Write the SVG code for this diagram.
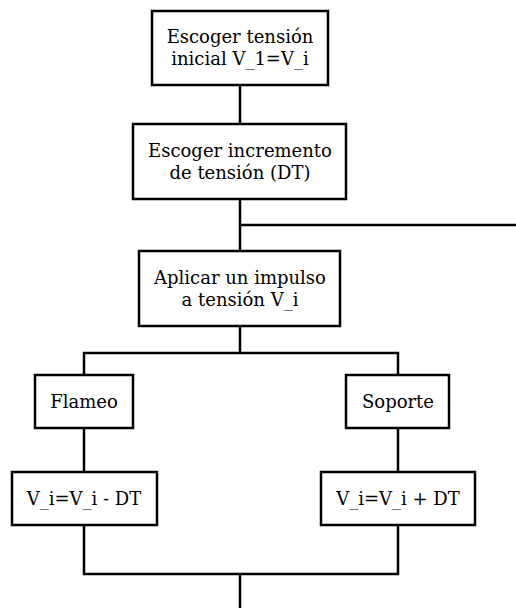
<svg xmlns="http://www.w3.org/2000/svg" width="516" height="608" viewBox="0 0 516 608">
<style>
.box{fill:#fff;stroke:#000;stroke-width:2.5}
.ln{fill:none;stroke:#000;stroke-width:2.5}
text{font-family:"DejaVu Serif",serif;font-size:18px;text-anchor:middle;fill:#000}
</style>
<rect width="516" height="608" fill="#fff"/>
<g id="connectors">
<path class="ln" d="M240 85V124"/>
<path class="ln" d="M240 199V251"/>
<path class="ln" d="M240 225H516"/>
<path class="ln" d="M240 326V353"/>
<path class="ln" d="M84 375V353H398V375"/>
<path class="ln" d="M84 428V472"/>
<path class="ln" d="M398 428V472"/>
<path class="ln" d="M84 525V574H398V525"/>
<path class="ln" d="M240 574V608"/>
</g>
<g id="n1"><rect class="box" x="152" y="11" width="176" height="74"/><text x="240" y="43">Escoger tensión</text><text x="240" y="65">inicial V_1=V_i</text></g>
<g id="n2"><rect class="box" x="133" y="124" width="213" height="75"/><text x="240" y="157">Escoger incremento</text><text x="240" y="179">de tensión (DT)</text></g>
<g id="n3"><rect class="box" x="139" y="251" width="201" height="75"/><text x="240" y="284">Aplicar un impulso</text><text x="240" y="306">a tensión V_i</text></g>
<g id="n4"><rect class="box" x="35" y="375" width="98" height="53"/><text x="84" y="408">Flameo</text></g>
<g id="n5"><rect class="box" x="346" y="375" width="103" height="53"/><text x="398" y="408">Soporte</text></g>
<g id="n6"><rect class="box" x="12" y="472" width="145" height="53"/><text x="84" y="505">V_i=V_i - DT</text></g>
<g id="n7"><rect class="box" x="321" y="472" width="154" height="53"/><text x="398" y="505">V_i=V_i + DT</text></g>
</svg>
